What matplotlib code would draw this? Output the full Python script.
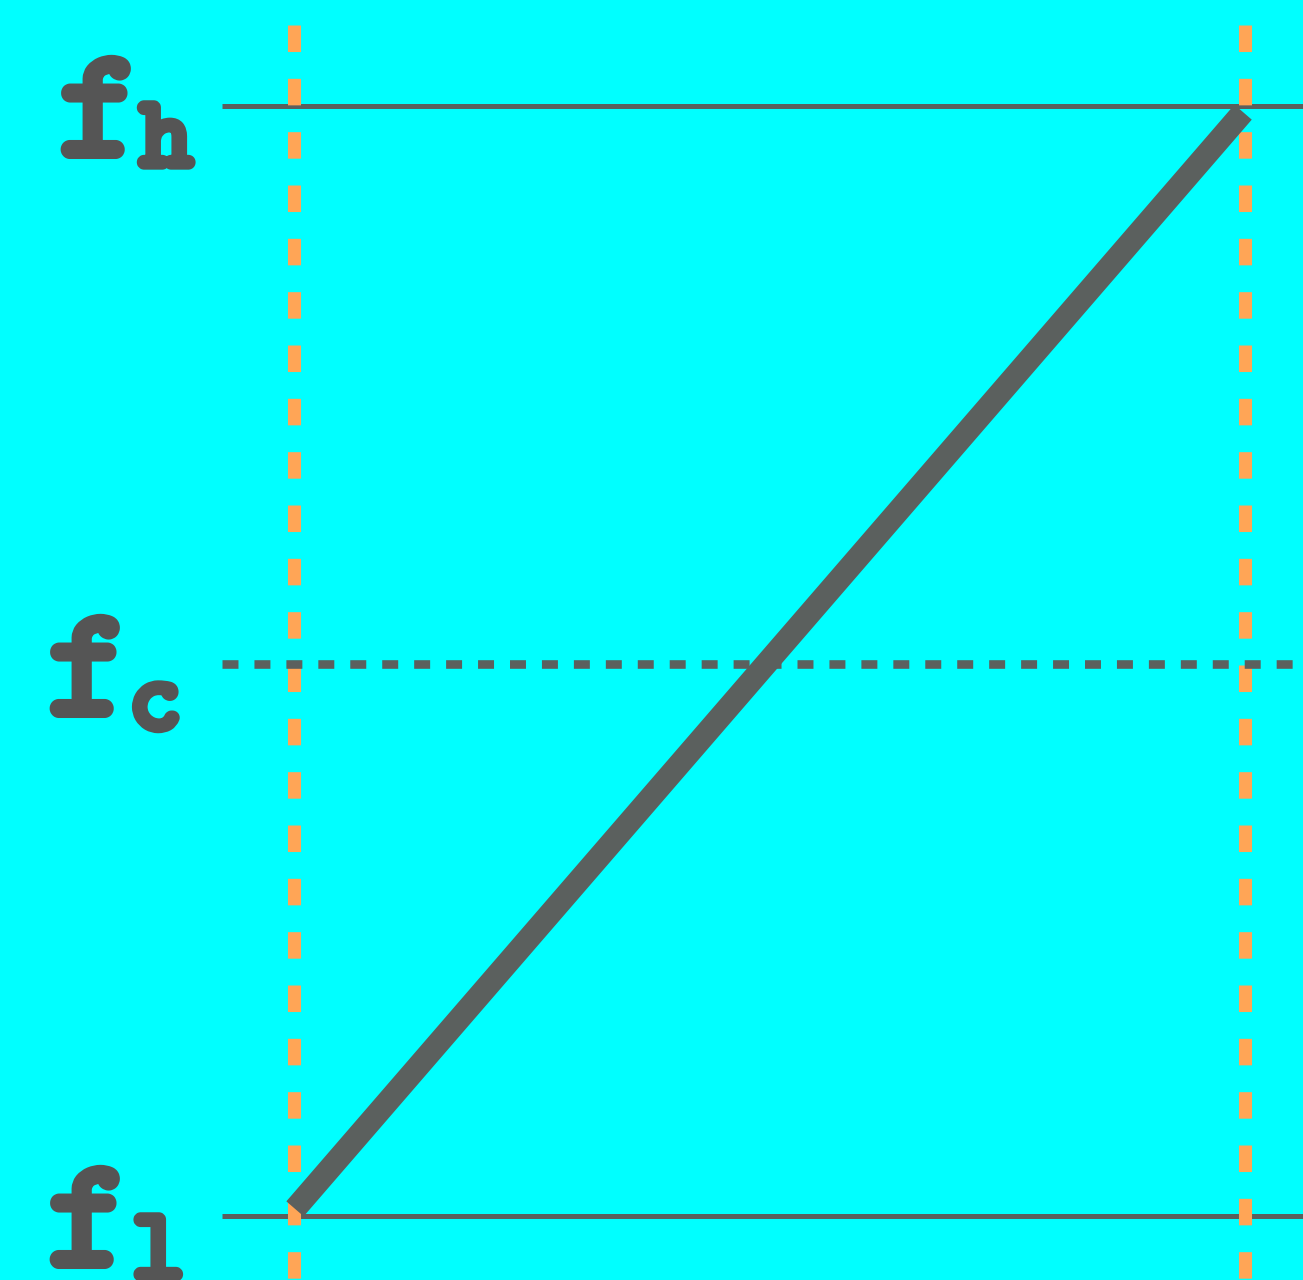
import matplotlib
matplotlib.use("Agg")
import matplotlib.pyplot as plt
import matplotlib.patheffects as pe

plt.rcParams["lines.scale_dashes"] = False

# frequency levels (normalised) and sweep window
levels = {"h": 1.0, "c": 0.4964, "l": 0.0}
t_window = [0.0, 1.0]
sweep_t = [0.0016, 0.998]
sweep_f = [0.006, 0.994]

bg = "#00ffff"
grey = "#5b605e"
text_grey = "#555555"
orange = "#ffa556"

W, H, DPI = 1303, 1280, 100
fig = plt.figure(figsize=(W / DPI, H / DPI), dpi=DPI, facecolor=bg)
ax = fig.add_axes([0, 0, 1, 1])
ax.set_facecolor(bg)
ax.set_axis_off()

# window x at px 293.5 / 1245, levels at px 1215.5 / 105.5 from top
sx, sy = 951.5, 1110.0
x0px, y0px = 293.5, 1215.5
ax.set_xlim(-x0px / sx, (W - x0px) / sx)
ax.set_ylim(-(H - y0px) / sy, y0px / sy)

line_start = (222 - x0px) / sx
xmax = ax.get_xlim()[1]

# solid band edges
for key in ("h", "l"):
    ax.plot([line_start, xmax], [levels[key]] * 2, color=grey, lw=3.6,
            solid_capstyle="butt", zorder=1)

# orange window markers
ytop = (y0px - 25) / sy
for t in t_window:
    ax.plot([t, t], [ytop, ax.get_ylim()[0] - 0.1], color=orange, lw=9.4,
            dashes=(19.1, 19.3), dash_capstyle="butt", zorder=2)

# centre frequency, dashed
ax.plot([line_start, xmax], [levels["c"]] * 2, color=grey, lw=6.2,
        dashes=(11.5, 11.5), dash_capstyle="butt", zorder=3)

# linear sweep
ax.plot(sweep_t, sweep_f, color=grey, lw=16.5, solid_capstyle="butt", zorder=4)

# labels f_h, f_c, f_l -- typewriter face, thickened with a round stroke
label_pos = {"h": (59, 140), "c": (48, 129), "l": (48, 132)}
sub_drop = {"h": 11, "c": 15, "l": 13}
font = "cmtt10"
for key, level in levels.items():
    fx, sxp = label_pos[key]
    base = level - 49 / sy
    ax.text((fx - x0px) / sx, base, "f", fontsize=111, fontfamily=font,
            color=text_grey, ha="left", va="baseline",
            path_effects=[pe.withStroke(linewidth=6.5, foreground=text_grey,
                                        capstyle="round", joinstyle="round")])
    ax.text((sxp - x0px) / sx, base - sub_drop[key] / sy, key, fontsize=72,
            fontfamily=font, color=text_grey, ha="left", va="baseline",
            path_effects=[pe.withStroke(linewidth=6.0, foreground=text_grey,
                                        capstyle="round", joinstyle="round")])

fig.savefig("out.png", dpi=DPI, facecolor=bg)
